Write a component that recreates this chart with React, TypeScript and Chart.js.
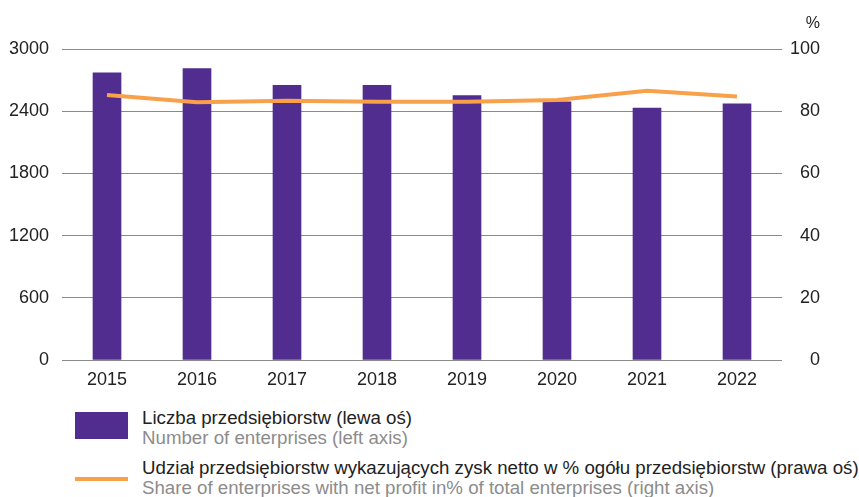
import React, { useEffect, useRef } from "react";
import { Chart, registerables } from "chart.js";

Chart.register(...registerables);

const years = ["2015", "2016", "2017", "2018", "2019", "2020", "2021", "2022"];
const enterprises = [2770, 2810, 2650, 2650, 2550, 2490, 2430, 2470];
const profitShare = [85.2, 82.9, 83.4, 83.0, 83.0, 83.6, 86.6, 84.7];
const leftTicks = [0, 600, 1200, 1800, 2400, 3000];
const rightTicks = [0, 20, 40, 60, 80, 100];

const FONT = "'Liberation Sans', Arial, sans-serif";
const PURPLE = "#512D8F";
const ORANGE = "#F9A04B";

export default function App() {
  const ref = useRef<HTMLCanvasElement | null>(null);

  useEffect(() => {
    if (!ref.current) return;
    const chart = new Chart(ref.current, {
      type: "bar",
      data: {
        labels: years,
        datasets: [
          {
            type: "line",
            label: "Udział",
            data: profitShare,
            yAxisID: "y2",
            borderColor: ORANGE,
            backgroundColor: ORANGE,
            borderWidth: 4,
            pointRadius: 0,
            tension: 0,
            order: 0,
          },
          {
            type: "bar",
            label: "Liczba",
            data: enterprises,
            yAxisID: "y",
            backgroundColor: PURPLE,
            borderWidth: 0,
            barThickness: 28,
            order: 1,
          },
        ],
      },
      options: {
        responsive: false,
        animation: false,
        maintainAspectRatio: false,
        layout: { padding: { top: 49, bottom: 0, left: 0, right: 39 } },
        plugins: { legend: { display: false }, tooltip: { enabled: false } },
        scales: {
          x: {
            grid: { display: false, drawTicks: false },
            border: { display: false },
            ticks: { font: { family: FONT, size: 18 }, color: "#222", padding: 9 },
            afterFit: (s: any) => {
              s.height = 40;
            },
          },
          y: {
            position: "left",
            min: 0,
            max: 3000,
            afterBuildTicks: (s: any) => {
              s.ticks = leftTicks.map((v) => ({ value: v }));
            },
            grid: { color: "#8a8a8a", lineWidth: 1, drawTicks: false },
            border: { display: false },
            ticks: {
              font: { family: FONT, size: 18 },
              color: "#222",
              padding: 13,
              callback: (v: any) => String(v),
            },
            afterFit: (s: any) => {
              s.width = 62;
            },
          },
          y2: {
            position: "right",
            min: 0,
            max: 100,
            afterBuildTicks: (s: any) => {
              s.ticks = rightTicks.map((v) => ({ value: v }));
            },
            grid: { display: false, drawTicks: false },
            border: { display: false },
            ticks: {
              font: { family: FONT, size: 18 },
              color: "#222",
              padding: 8,
              crossAlign: "far",
              callback: (v: any) => String(v),
            },
            afterFit: (s: any) => {
              s.width = 38;
            },
          },
        },
      },
    });
    return () => chart.destroy();
  }, []);

  const text: React.CSSProperties = {
    position: "absolute",
    left: 142,
    fontFamily: FONT,
    fontSize: 18.7,
    lineHeight: "20px",
    whiteSpace: "nowrap",
  };

  return (
    <div
      style={{
        position: "absolute",
        left: 0,
        top: 0,
        width: 859,
        height: 497,
        background: "#fff",
        overflow: "hidden",
      }}
    >
      <canvas
        ref={ref}
        width={859}
        height={400}
        style={{ position: "absolute", left: 0, top: 0, width: 859, height: 400 }}
      />
      <div
        style={{
          position: "absolute",
          right: 39,
          top: 15,
          fontFamily: FONT,
          fontSize: 16,
          lineHeight: "16px",
          color: "#222",
        }}
      >
        %
      </div>
      <div style={{ position: "absolute", left: 75, top: 412, width: 53, height: 27, background: PURPLE }} />
      <div style={{ ...text, top: 408, color: "#222" }}>Liczba przedsiębiorstw (lewa oś)</div>
      <div style={{ ...text, top: 428, color: "#8c8c8c" }}>Number of enterprises (left axis)</div>
      <div style={{ position: "absolute", left: 75, top: 477, width: 53, height: 4, background: ORANGE }} />
      <div style={{ ...text, top: 458, color: "#222" }}>
        Udział przedsiębiorstw wykazujących zysk netto w % ogółu przedsiębiorstw (prawa oś)
      </div>
      <div style={{ ...text, top: 478, color: "#8c8c8c" }}>
        Share of enterprises with net profit in% of total enterprises (right axis)
      </div>
    </div>
  );
}
